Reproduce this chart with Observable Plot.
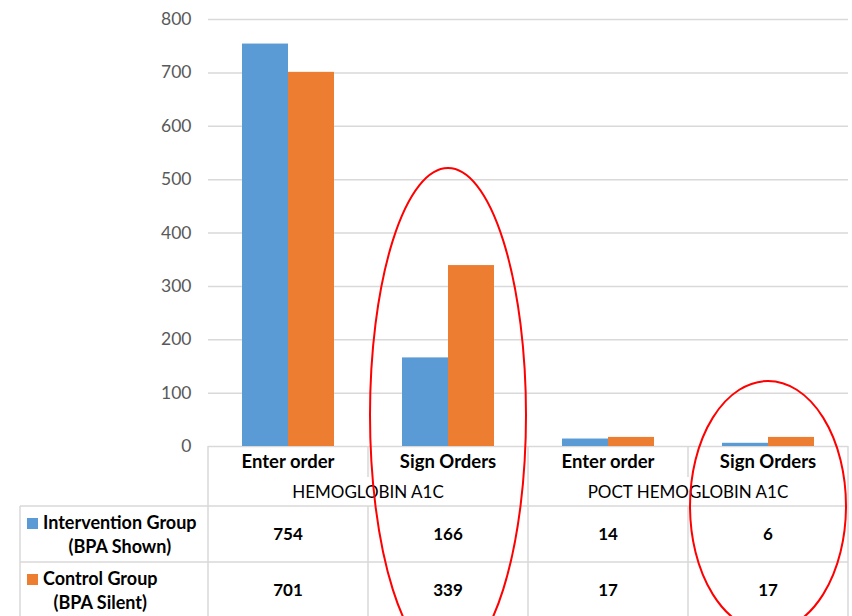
<!DOCTYPE html>
<html>
<head>
<meta charset="utf-8">
<script src="https://cdn.jsdelivr.net/npm/d3@7"></script>
<script src="https://cdn.jsdelivr.net/npm/@observablehq/plot@0.6"></script>
<style>
  html, body { margin: 0; padding: 0; background: #fff; }
  #wrap { position: relative; width: 852px; height: 616px; overflow: hidden; }
</style>
</head>
<body>
<div id="wrap"></div>
<script>
// ---- data ----
const groups = ["HEMOGLOBIN A1C", "HEMOGLOBIN A1C", "POCT HEMOGLOBIN A1C", "POCT HEMOGLOBIN A1C"];
const actions = ["Enter order", "Sign Orders", "Enter order", "Sign Orders"];
const interventionValues = [754, 166, 14, 6];
const controlValues = [701, 339, 17, 17];
const seriesKeys = ["Intervention", "Control"];
const seriesLine1 = ["Intervention Group", "Control Group"];
const seriesLine2 = ["(BPA Shown)", "(BPA Silent)"];
const seriesColors = ["#5b9bd5", "#ed7d31"];
const yTicks = [0, 100, 200, 300, 400, 500, 600, 700, 800];
const highlighted = [1, 3]; // circled categories

// ---- derived table ----
const keys = actions.map((a, i) => groups[i] + "|" + a + "|" + i);
const seriesValues = [interventionValues, controlValues];
const rows = [];
keys.forEach((k, i) => {
  seriesKeys.forEach((s, j) => rows.push({key: k, series: s, value: seriesValues[j][i]}));
});

const FONT = "Lato, 'Open Sans', sans-serif";
const chart = Plot.plot({
  width: 852,
  height: 616,
  marginTop: 19,
  marginBottom: 170,
  marginLeft: 207,
  marginRight: 3,
  style: {fontFamily: FONT, background: "#fff", overflow: "visible"},
  fx: {domain: keys, padding: 0, axis: null},
  x: {domain: seriesKeys, paddingInner: 0, paddingOuter: 0.73, axis: null},
  y: {domain: [0, 800], label: null},
  color: {domain: seriesKeys, range: seriesColors},
  marks: [
    Plot.gridY(yTicks, {stroke: "#d9d9d9", strokeOpacity: 1, strokeWidth: 1.5}),
    Plot.barY(rows, {fx: "key", x: "series", y: "value", fill: "series"}),
    Plot.axisY(yTicks, {tickSize: 0, tickPadding: 17, fontSize: 17.5, fill: "#595959", label: null})
  ]
});
document.getElementById("wrap").appendChild(chart);

// ---- data table below the plot ----
const svg = d3.select(chart);
const fx = chart.scale("fx");
const bw = fx.bandwidth;
const xEnd = fx.apply(keys[keys.length - 1]) + bw;
const yAxis = 446, yCatBottom = 477, yHeadBottom = 506, yRow2 = 562, yBottom = 620, xTableLeft = 20;
const line = "#d9d9d9";
const g = svg.append("g").attr("font-family", FONT).attr("text-anchor", "start");

function vline(x, y1, y2) {
  g.append("line").attr("x1", x).attr("x2", x).attr("y1", y1).attr("y2", y2)
    .attr("stroke", line).attr("stroke-width", 1.5);
}
function hline(y, x1, x2) {
  g.append("line").attr("x1", x1).attr("x2", x2).attr("y1", y).attr("y2", y)
    .attr("stroke", line).attr("stroke-width", 1.5);
}

// header verticals
keys.forEach((k, i) => {
  const x = fx.apply(k);
  const isGroupStart = i === 0 || groups[i] !== groups[i - 1];
  vline(x, yAxis, isGroupStart ? yHeadBottom : yCatBottom);
});
vline(xEnd, yAxis, yHeadBottom);
// body grid
hline(yHeadBottom, xTableLeft, xEnd);
hline(yRow2, xTableLeft, xEnd);
[xTableLeft, ...keys.map(k => fx.apply(k)), xEnd].forEach(x => vline(x, yHeadBottom, yBottom));

// category labels
keys.forEach((k, i) => {
  g.append("text").attr("x", fx.apply(k) + bw / 2).attr("y", 462).attr("dy", "0.35em")
    .attr("text-anchor", "middle").attr("font-size", 18.5).attr("font-weight", "bold")
    .attr("fill", "#000").text(actions[i]);
});
// group labels
const groupNames = [...new Set(groups)];
groupNames.forEach(gn => {
  const idx = groups.map((g2, i) => g2 === gn ? i : -1).filter(i => i >= 0);
  const a = fx.apply(keys[idx[0]]), b = fx.apply(keys[idx[idx.length - 1]]) + bw;
  g.append("text").attr("x", (a + b) / 2).attr("y", 492).attr("dy", "0.35em")
    .attr("text-anchor", "middle").attr("font-size", 17).attr("fill", "#000").text(gn);
});
// rows
const rowCenters = [534, 590];
seriesKeys.forEach((s, j) => {
  const yc = rowCenters[j];
  g.append("rect").attr("x", 27).attr("y", yc - 16).attr("width", 11).attr("height", 11)
    .attr("fill", seriesColors[j]);
  const t1 = g.append("text").attr("x", 43).attr("y", yc - 11).attr("dy", "0.35em")
    .attr("text-anchor", "start")
    .attr("font-size", 18).attr("font-weight", "bold").attr("fill", "#000").text(seriesLine1[j]);
  const end = 43 + t1.node().getComputedTextLength();
  g.append("text").attr("x", (27 + end) / 2 + 8).attr("y", yc + 13).attr("dy", "0.35em")
    .attr("text-anchor", "middle").attr("font-size", 18).attr("font-weight", "bold")
    .attr("fill", "#000").text(seriesLine2[j]);
  keys.forEach((k, i) => {
    g.append("text").attr("x", fx.apply(k) + bw / 2).attr("y", yc).attr("dy", "0.35em")
      .attr("text-anchor", "middle").attr("font-size", 17).attr("font-weight", "bold")
      .attr("fill", "#000").text(seriesValues[j][i]);
  });
});

// ---- red annotation ellipses ----
const ellipseShapes = [{top: 168, rx: 78, ry: 247}, {top: 381, rx: 78, ry: 125}];
highlighted.forEach((ci, n) => {
  const e = ellipseShapes[n];
  g.append("ellipse").attr("cx", fx.apply(keys[ci]) + bw / 2).attr("cy", e.top + e.ry)
    .attr("rx", e.rx).attr("ry", e.ry).attr("fill", "none").attr("stroke", "#ff0000").attr("stroke-width", 2);
});
</script>
</body>
</html>
